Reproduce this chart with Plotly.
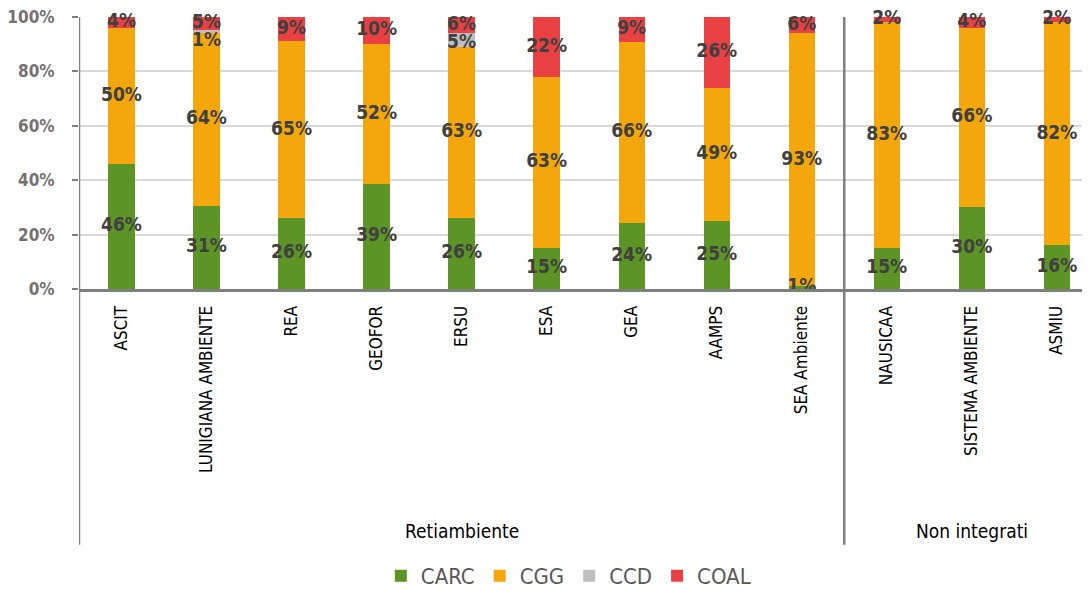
import plotly.graph_objects as go

categories = ["ASCIT", "LUNIGIANA AMBIENTE", "REA", "GEOFOR", "ERSU", "ESA", "GEA", "AAMPS",
              "SEA Ambiente", "NAUSICAA", "SISTEMA AMBIENTE", "ASMIU"]
groups = ["Retiambiente", "Non integrati"]
group_sizes = [9, 3]

carc = [46, 31, 26, 39, 26, 15, 24, 25, 1, 15, 30, 16]
cgg = [50, 64, 65, 52, 63, 63, 66, 49, 93, 83, 66, 82]
ccd = [0, 1, 0, 0, 5, 0, 0, 0, 0, 0, 0, 0]
coal = [4, 5, 9, 10, 6, 22, 9, 26, 6, 2, 4, 2]

series = [("CARC", carc, "#5C9426"), ("CGG", cgg, "#F3A70D"),
          ("CCD", ccd, "#BFBFBF"), ("COAL", coal, "#E84043")]

FONT = "DejaVu Sans Condensed, Liberation Sans Narrow, sans-serif"

fig = go.Figure()
xs = list(range(len(categories)))
totals = [sum(v) for v in zip(carc, cgg, ccd, coal)]

# stacked bars (normalised to 100%)
norms = []
for name, vals, color in series:
    norm = [v / t * 100 for v, t in zip(vals, totals)]
    norms.append(norm)
    fig.add_trace(go.Bar(x=xs, y=norm, name=name, marker=dict(color=color, line=dict(width=0)),
                         width=0.31, hoverinfo="skip"))

# label positions: segment centres, pushed down when too close to the label above
label_pos = [[None] * len(categories) for _ in series]
for i in range(len(categories)):
    tops = []
    b = 0.0
    for s in range(len(series)):
        tops.append((b, norms[s][i]))
        b += norms[s][i]
    prev = None
    for s in reversed(range(len(series))):
        if series[s][1][i] <= 0:
            continue
        y = tops[s][0] + tops[s][1] / 2
        if prev is not None and prev - y < 6.5:
            y = prev - 6.5
        label_pos[s][i] = y
        prev = y

for s, (name, vals, color) in enumerate(series):
    lx, ly, lt = [], [], []
    for i, v in enumerate(vals):
        if v > 0:
            lx.append(i)
            ly.append(label_pos[s][i])
            lt.append(f"{v}%")
    fig.add_trace(go.Scatter(x=lx, y=ly, text=lt, mode="text", showlegend=False,
                             textfont=dict(family=FONT, size=19, color="#404040"),
                             texttemplate="<b>%{text}</b>", cliponaxis=False,
                             hoverinfo="skip"))

# group dividers and labels
shapes = []
line_col = "#7F7F7F"
shapes.append(dict(type="line", xref="x", yref="paper", x0=-0.5, x1=-0.5, y0=-0.94, y1=1,
                   line=dict(color=line_col, width=2.5)))
start = 0
annotations = []
for g, n in zip(groups, group_sizes):
    end = start + n
    if end < len(categories):
        shapes.append(dict(type="line", xref="x", yref="paper", x0=end - 0.5, x1=end - 0.5,
                           y0=-0.94, y1=1, line=dict(color=line_col, width=2.5)))
    annotations.append(dict(x=(start + end - 1) / 2, y=-0.89, xref="x", yref="paper", text=g,
                            showarrow=False, font=dict(family=FONT, size=19, color="#000000"),
                            yanchor="middle"))
    start = end

fig.update_layout(
    barmode="stack",
    width=1082, height=583,
    margin=dict(l=71, r=0, t=9, b=302, autoexpand=False),
    paper_bgcolor="white", plot_bgcolor="white",
    font=dict(family=FONT),
    shapes=shapes,
    annotations=annotations,
    legend=dict(orientation="h", x=0.484, xanchor="center", y=-1.055, yanchor="middle",
                font=dict(family=FONT, size=22, color="#595959"), traceorder="normal",
                itemwidth=30),
    xaxis=dict(tickmode="array", tickvals=xs, ticktext=categories, tickangle=-90,
               range=[-0.5, 11.39], showline=True, linecolor=line_col, linewidth=3,
               ticks="", ticklabelstandoff=7,
               tickfont=dict(family=FONT, size=17, color="#000000"),
               showgrid=False, zeroline=False),
    yaxis=dict(range=[0, 100], tickvals=[0, 20, 40, 60, 80, 100],
               ticktext=["<b>0%</b>", "<b>20%</b>", "<b>40%</b>", "<b>60%</b>", "<b>80%</b>", "<b>100%</b>"],
               showline=False, ticks="outside", ticklen=6, tickcolor=line_col, tickwidth=2,
               ticklabelstandoff=14, ticklabeloverflow="allow",
               tickfont=dict(family=FONT, size=17, color="#767171"),
               gridcolor="#D9D9D9", gridwidth=1.5, zeroline=False),
)

fig.write_html("out.html")
